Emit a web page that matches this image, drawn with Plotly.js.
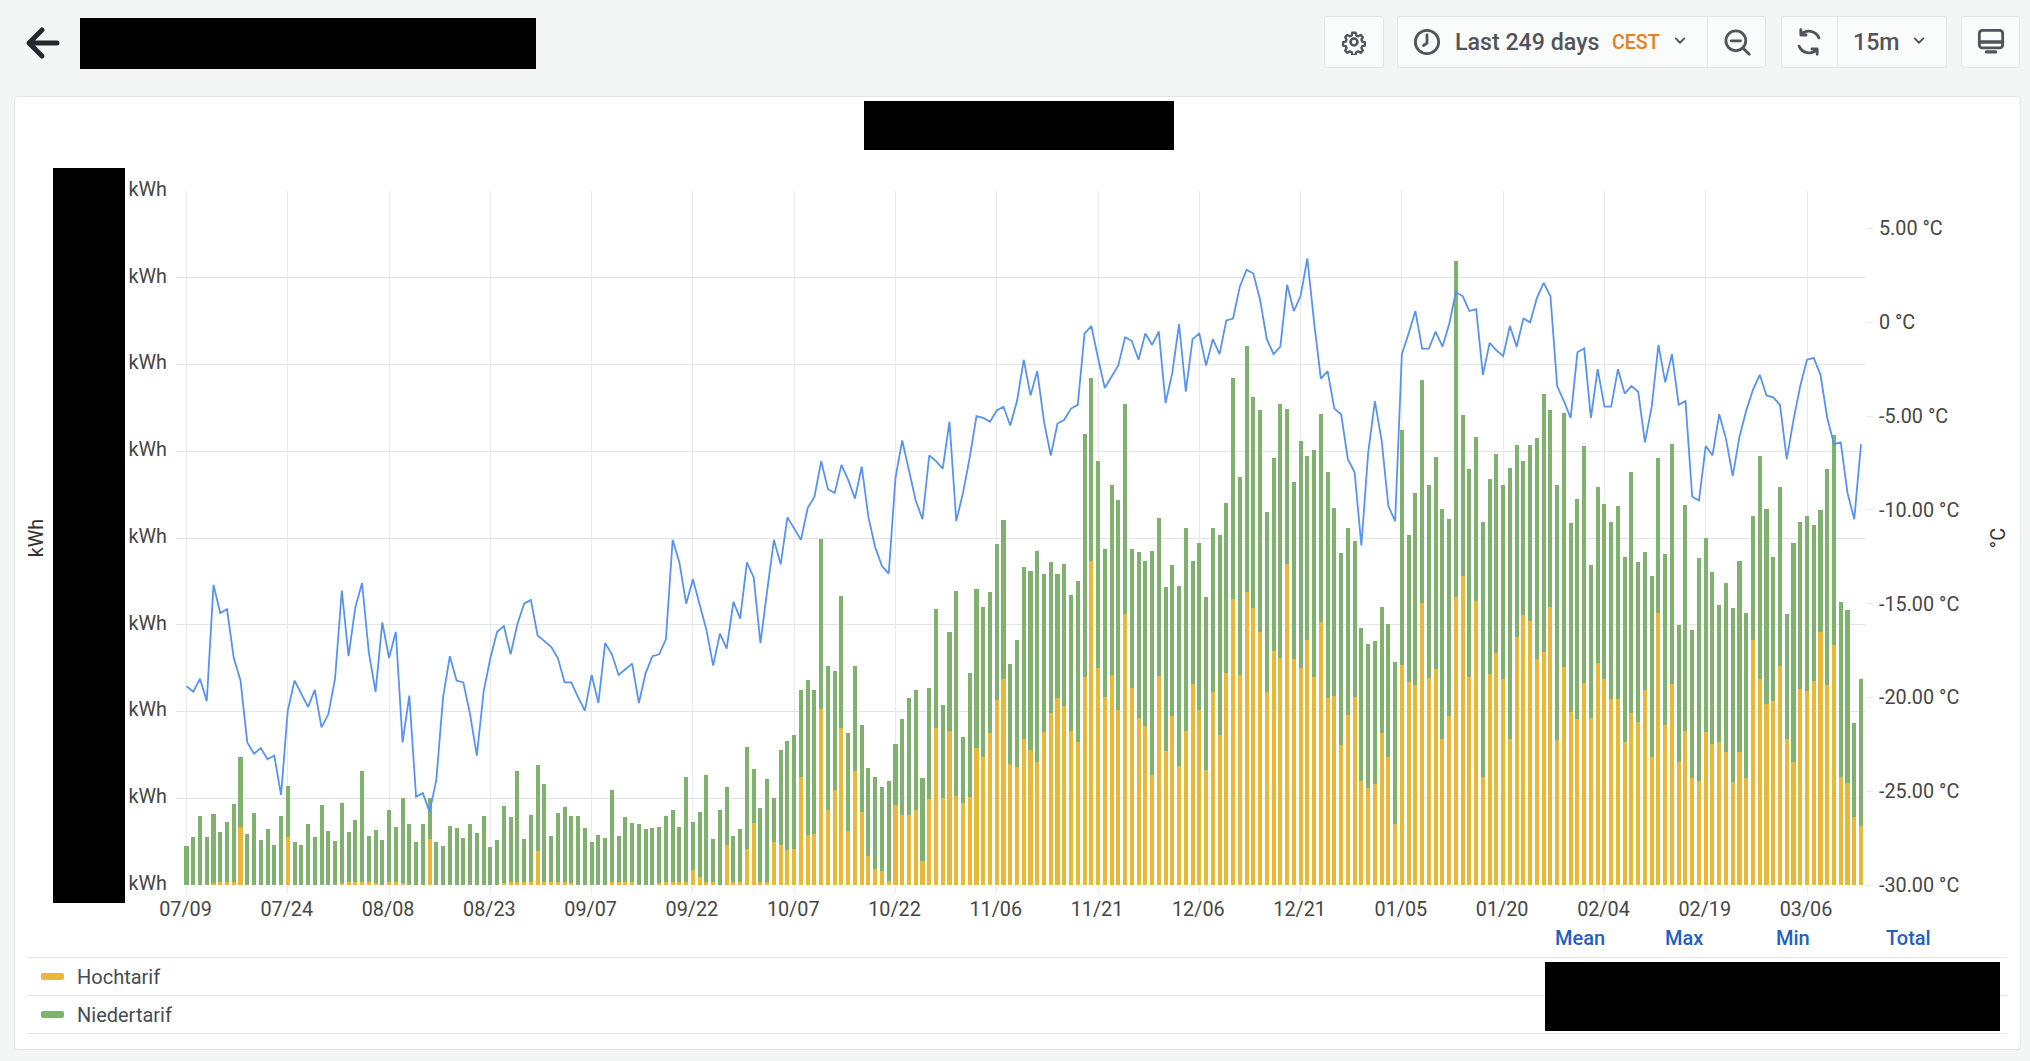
<!DOCTYPE html>
<html><head><meta charset="utf-8">
<script src="https://cdn.plot.ly/plotly-3.0.1.min.js"></script>
<style>
html,body{margin:0;padding:0;background:#f4f5f5;width:2030px;height:1061px;overflow:hidden;font-family:Roboto,sans-serif;}
.abs{position:absolute;}
#card{left:14px;top:96px;width:2005px;height:952px;background:#fff;border:1px solid #e3e5e7;border-radius:4px;}
#chart{left:0;top:0;width:2030px;height:1061px;}
.blk{background:#000;z-index:5;}
.btn{background:#fafbfb;border:1px solid #e4e6e8;border-radius:3px;box-sizing:border-box;top:16px;height:52px;}
.div{background:#e4e6e8;top:16px;width:1px;height:52px;}
.t{white-space:nowrap;line-height:1;}
.hd{color:#1f60c4;font-weight:500;font-size:20px;top:928px;}
.sep{left:27px;width:1980px;height:1px;background:#e4e6e8;}
.sw{left:41px;width:23px;height:7px;border-radius:2px;}
.lg{left:77px;font-size:20px;color:#464c54;}
svg.i{position:absolute;fill:none;stroke:#52545c;stroke-width:2.4;stroke-linecap:round;stroke-linejoin:round;}
</style></head><body>
<div class="abs" id="card"></div>
<div class="abs" id="chart"></div>

<svg class="i" style="left:25px;top:26px;stroke:#24292f;stroke-width:5" width="36" height="34" viewBox="0 0 36 34"><path d="M32 17H5M17 4L4 17l13 13"/></svg>
<div class="abs blk" style="left:80px;top:18px;width:456px;height:51px"></div>

<div class="abs btn" style="left:1324px;width:60px"></div>
<svg class="i" style="left:1341px;top:29px" width="26" height="26" viewBox="0 0 24 24"><circle cx="12" cy="12" r="3.2"/><path d="M10.3 2.5h3.4l.6 2.8 2 .9 2.500-1.500 2.300 2.400-1.500 2.500.8 2 2.800.6v3.400l-2.800.6-.8 2 1.500 2.500-2.300 2.400-2.500-1.500-2 .9-.6 2.800h-3.400l-.6-2.800-2-.9-2.500 1.500-2.300-2.400 1.500-2.500-.8-2-2.800-.6v-3.400l2.800-.6.8-2-1.500-2.500 2.300-2.400 2.500 1.500 2-.9z" transform="translate(1.200 1.200) scale(.9)"/></svg>
<div class="abs btn" style="left:1397px;width:369px"></div>
<div class="abs div" style="left:1707px"></div>
<svg class="i" style="left:1413px;top:28px" width="28" height="28" viewBox="0 0 24 24"><circle cx="12" cy="12" r="10"/><path d="M12 6v7l-3 2"/></svg>
<div class="abs t" style="left:1455px;top:31px;font-size:23.2px;font-weight:500;color:#52545c">Last 249 days</div>
<div class="abs t" style="left:1612px;top:33px;font-size:19.6px;font-weight:500;color:#ed7d1c">CEST</div>
<svg class="i" style="left:1674px;top:36px;stroke-width:2.200" width="12" height="10" viewBox="0 0 14 11"><path d="M2 2.500l5 5 5-5"/></svg>
<svg class="i" style="left:1722px;top:28px" width="30" height="28" viewBox="0 0 24 24"><circle cx="11" cy="11" r="8.500"/><path d="M7 11h8M17.500 17.500l5 5"/></svg>

<div class="abs btn" style="left:1781px;width:166px"></div>
<div class="abs div" style="left:1837px"></div>
<svg class="i" style="left:1795px;top:28px" width="28" height="28" viewBox="0 0 24 24"><path d="M20.500 8.500A9.500 9.500 0 0 0 5 5.500M3.500 15.500A9.500 9.500 0 0 0 19 18.500M5 1.500v4.500h4.500M19 22.500V18h-4.500"/></svg>
<div class="abs t" style="left:1853px;top:31px;font-size:23.2px;font-weight:500;color:#52545c">15m</div>
<svg class="i" style="left:1913px;top:36px;stroke-width:2.200" width="12" height="10" viewBox="0 0 14 11"><path d="M2 2.500l5 5 5-5"/></svg>
<div class="abs btn" style="left:1961px;width:59px"></div>
<svg class="i" style="left:1977px;top:28px" width="28" height="28" viewBox="0 0 24 24"><rect x="2" y="2" width="20" height="15" rx="2.500"/><path d="M2 12h20M8 20.500h8" stroke-width="2.800"/></svg>

<div class="abs blk" style="left:864px;top:101px;width:310px;height:49px"></div>
<div class="abs blk" style="left:53px;top:168px;width:72px;height:735px"></div>

<div class="abs t hd" style="left:1555px">Mean</div>
<div class="abs t hd" style="left:1665px">Max</div>
<div class="abs t hd" style="left:1776px">Min</div>
<div class="abs t hd" style="left:1886px">Total</div>
<div class="abs sep" style="top:957px"></div>
<div class="abs sep" style="top:995px"></div>
<div class="abs sep" style="top:1033px"></div>
<div class="abs sw" style="top:973px;background:#eab839"></div>
<div class="abs t lg" style="top:967px">Hochtarif</div>
<div class="abs sw" style="top:1011px;background:#7eb26d"></div>
<div class="abs t lg" style="top:1005px">Niedertarif</div>
<div class="abs blk" style="left:1545px;top:962px;width:455px;height:69px"></div>

<script>
const startDate = '2022-07-09';
const tickDates = ['2022-07-09','2022-07-24','2022-08-08','2022-08-23','2022-09-07','2022-09-22','2022-10-07','2022-10-22','2022-11-06','2022-11-21','2022-12-06','2022-12-21','2023-01-05','2023-01-20','2023-02-04','2023-02-19','2023-03-06'];
const tickLabels = ['07/09','07/24','08/08','08/23','09/07','09/22','10/07','10/22','11/06','11/21','12/06','12/21','01/05','01/20','02/04','02/19','03/06'];
const kwhTicks = [0,10,20,30,40,50,60,70,80];
const kwhLabels = ['kWh','kWh','kWh','kWh','kWh','kWh','kWh','kWh','kWh'];
const tempTicks = [5,0,-5,-10,-15,-20,-25,-30];
const tempLabels = ['5.00 °C','0 °C','-5.00 °C','-10.00 °C','-15.00 °C','-20.00 °C','-25.00 °C','-30.00 °C'];

const hochtarif = [
0,0,0,0,.2,.4,.4,.4,6.7,0,
0,0,0,0,0,5.5,0,0,0,0,
0,0,0,.2,.4,.4,.4,.4,.2,0,
.4,.4,.2,0,0,0,5.3,0,0,0,
0,0,0,0,0,0,0,.2,.4,.4,
.4,.4,3.9,.4,.4,.4,.4,.2,0,0,
0,0,0,.4,.4,.4,.4,0,0,0,
.2,.4,.4,.4,.4,1.7,.9,.4,.4,0,
4.6,.4,.4,4.1,7.2,.4,.4,4.9,4.6,4,
4.1,12.5,5.8,5.9,20.3,8.7,11,18.1,6.2,13.1,
8.4,3.3,1.8,1.6,.5,9.2,8.1,8.1,8.6,2.8,
9.9,18.1,10,17.7,10.3,9.4,10.1,15.8,14.7,17.5,
21.3,23.8,13.9,13.6,16.8,15.6,14.2,17.6,19.8,21.6,
20.6,17.7,16.5,24,37.4,25,21.7,24.2,20.2,31.2,
22.7,19.3,18.3,12.7,24.1,15.5,19.5,13.7,17.8,23.2,
20.2,13.3,22.3,17.3,24.4,33,24.2,33.8,31.9,29.2,
22.3,27,26.2,37,26.1,25,28.3,24,30.3,21.5,
21.8,16.1,19.6,21.7,12,11.2,11.6,17.5,14.8,7,
25.4,23.4,23.1,32.5,23.9,24.9,16.8,19.5,33.2,35.6,
24,32.7,12.4,24.3,26.7,23.7,16.8,28.6,31.1,30.4,
26,26.9,32,16.7,25.1,19.9,19.1,23.3,19.2,25.6,
23.8,21.4,21.4,16.5,19.8,18.8,22.5,14.8,31.4,18.4,
23.2,14.2,17.7,12.3,12,17.6,16.2,16.5,15.3,11.9,
15.3,12.3,28.2,23.7,20.9,21.2,25.3,16.8,14.2,22.6,
22.4,23.5,29.2,23,27.7,12.5,11.8,7.8,6.8];

const niedertarif = [
4.5,5.5,8,5.5,8,5.7,6.9,8.9,8.1,5.9,
8.3,5.2,6.4,4.6,8,5.9,4.9,4.6,7,5.5,
9.2,6.2,5.1,9.3,5.7,7.1,12.7,5.3,6.1,5.2,
8.3,6.3,9.8,7,4.9,7,4.7,5,4.5,6.8,
6.6,5.4,7,6,8,4.4,5.2,8.9,7.4,12.7,
4.9,7.7,9.9,11.3,5.2,7.9,8.6,7.7,8,6.6,
5,5.8,5.4,10.6,5.2,7.4,6.8,7,6.4,6.6,
6.5,7.5,8.2,6.3,12,5.6,7.5,12.3,4.9,8.6,
6.7,5.3,6,11.8,6.2,8.5,11.8,5.1,11,12.6,
13.2,10,17.8,16.6,19.6,16.6,13.7,15.2,11.3,12.2,
10.1,10.2,10.7,9.7,11.5,7.1,11,13.5,13.9,9.5,
12.8,13.7,10.8,11.5,23.6,7.7,14.3,18.3,17.4,16.3,
18,18.3,11.6,14.6,19.9,20.6,24.3,18.2,17.4,14.2,
16.4,15.7,18.6,28,21.1,23.9,17,21.9,24.2,24.3,
16,19.1,19,25.8,18.2,18.8,17.4,20.8,23.4,14.2,
19.2,19.9,18.9,23.1,19.6,25.4,22.8,28.3,24.4,25.6,
20.7,22.2,29.3,17.9,20.4,26.2,21.2,26.2,24,26.1,
21.7,22.2,21.6,17.9,17.6,16.6,16.5,14.6,15.3,18.7,
27,16.9,22.1,25.7,22.2,24.4,26.5,22.7,38.7,18.6,
24,19,29.4,22.5,23,22.4,31.3,22.1,17.8,20.3,
25.5,29.7,22.7,29.4,29.3,21.8,25.4,27.3,17.7,20.3,
20.1,20.5,22.3,21.3,27.8,18.4,15.9,20.8,17.8,19.7,
27.6,15.8,26.1,17.1,25.7,22.4,19.9,15.8,19.5,20,
22,19,14.3,25.7,22.5,16.6,20.6,14.4,25.2,19.3,
20.1,18,14,24.9,24.2,20.1,19.9,10.9,16.9];

const temperatur = [
-19.4,-19.7,-19,-20.2,-14,-15.5,-15.3,-17.9,-19.1,-22.4,
-23,-22.7,-23.3,-23.1,-25.2,-20.7,-19.1,-19.8,-20.5,-19.6,
-21.6,-20.9,-19,-14.3,-17.8,-15.2,-13.9,-17.6,-19.7,-16,
-17.9,-16.5,-22.4,-19.9,-25.3,-25.1,-26.1,-24.4,-20,-17.8,
-19.1,-19.2,-20.9,-23.1,-19.7,-17.9,-16.5,-16.2,-17.7,-16.1,
-15,-14.8,-16.7,-17,-17.3,-17.9,-19.2,-19.2,-20,-20.7,
-18.8,-20.3,-17.1,-17.7,-18.8,-18.5,-18.2,-20.3,-18.7,-17.8,
-17.7,-16.9,-11.6,-12.8,-15,-13.7,-15.1,-16.4,-18.3,-16.6,
-17.4,-14.9,-15.8,-12.8,-13.6,-17.1,-14.3,-11.6,-12.9,-10.4,
-11,-11.6,-9.9,-9.3,-7.4,-8.9,-9.1,-7.6,-8.4,-9.4,
-7.7,-10.4,-12,-13,-13.4,-8.3,-6.3,-7.9,-9.5,-10.5,
-7.1,-7.4,-7.8,-5.3,-10.6,-9.1,-7.2,-5,-5.1,-5.3,
-4.7,-4.5,-5.5,-4.2,-2,-3.9,-2.6,-5.3,-7.1,-5.4,
-5.2,-4.6,-4.4,-.6,-.2,-1.9,-3.5,-2.9,-2.3,-.8,
-1,-2,-.6,-1.2,-.5,-4.3,-2.7,-.1,-3.7,-.9,
-.6,-2.3,-.9,-1.7,.1,.2,1.9,2.8,2.6,1.2,
-.9,-1.7,-1.3,2,.6,1.4,3.4,0,-3,-2.6,
-4.6,-4.9,-7.3,-8,-11.9,-7,-4.2,-6.3,-9.8,-10.6,
-1.7,-.6,.6,-1.4,-1.4,-.5,-1.3,-.1,1.6,1.4,
.6,.7,-2.8,-1.1,-1.5,-1.8,-.2,-1.3,.2,0,
1.3,2.1,1.4,-3.4,-4.2,-5.1,-1.6,-1.4,-5.1,-2.5,
-4.5,-4.5,-2.5,-3.8,-3.4,-3.7,-6.4,-4.5,-1.2,-3.2,
-1.7,-4.4,-4.2,-9.3,-9.5,-6.6,-7.1,-4.9,-6.2,-8.2,
-6.1,-4.7,-3.6,-2.8,-3.9,-4,-4.4,-7.3,-5.2,-3.4,
-2,-1.9,-2.8,-5.1,-6.5,-6.4,-9.1,-10.5,-6.5];

const days = hochtarif.map((_, i) => {
  const d = new Date(startDate + 'T00:00:00Z');
  d.setUTCDate(d.getUTCDate() + i);
  return d.toISOString().slice(0, 10);
});

const FONT = 'Roboto, sans-serif';
const TXT = '#464646';
const GRID = '#e3e4e6';
const VGRID = '#e9eaec';
const barWidth = 0.6 * 86400000;

const traces = [
  {type:'bar', name:'Hochtarif', x:days, y:hochtarif, width:barWidth, marker:{color:'#eab839', line:{width:0}}},
  {type:'bar', name:'Niedertarif', x:days, y:niedertarif, width:barWidth, marker:{color:'#7eb26d', line:{width:0}}},
  {type:'scatter', mode:'lines', name:'Temperatur', x:days, y:temperatur, yaxis:'y2', line:{color:'#5794f2', width:1.8}}
];

const layout = {
  width:2030, height:1061, autosize:false,
  paper_bgcolor:'rgba(0,0,0,0)', plot_bgcolor:'rgba(0,0,0,0)',
  showlegend:false, barmode:'stack', bargap:0,
  margin:{l:176, r:165, t:191.3, b:175.8, pad:0},
  font:{family:FONT, size:19.8, color:TXT},
  xaxis:{type:'date', range:['2022-07-07T10:40:00','2023-03-14T14:10:00'],
    tickmode:'array', tickvals:tickDates, ticktext:tickLabels,
    showgrid:true, gridcolor:VGRID, gridwidth:1, ticks:'outside', ticklen:7, tickcolor:VGRID, tickwidth:1,
    ticklabelstandoff:-1, ticklabelshift:-1,
    showline:false, zeroline:false, tickfont:{family:FONT,size:19.8,color:TXT}, tickangle:0},
  yaxis:{range:[0,80], tickmode:'array', tickvals:kwhTicks, ticktext:kwhLabels,
    showgrid:true, gridcolor:GRID, gridwidth:1, ticks:'outside', ticklen:4, tickcolor:'rgba(0,0,0,0)',
    ticklabelshift:-2,
    showline:false, zeroline:false, tickfont:{family:FONT,size:19.8,color:TXT},
    title:{text:'kWh', standoff:79, font:{family:FONT,size:19.8,color:'#333'}}},
  yaxis2:{overlaying:'y', side:'right', range:[-30,7], tickmode:'array', tickvals:tempTicks, ticktext:tempLabels,
    showgrid:false, ticks:'outside', ticklen:7, tickcolor:VGRID, showline:false, zeroline:false,
    ticklabelstandoff:2,
    tickfont:{family:FONT,size:19.8,color:TXT},
    title:{text:'°C', standoff:32, font:{family:FONT,size:19.8,color:'#333'}}}
};
Plotly.newPlot('chart', traces, layout, {staticPlot:true, displayModeBar:false});
</script>
</body></html>
